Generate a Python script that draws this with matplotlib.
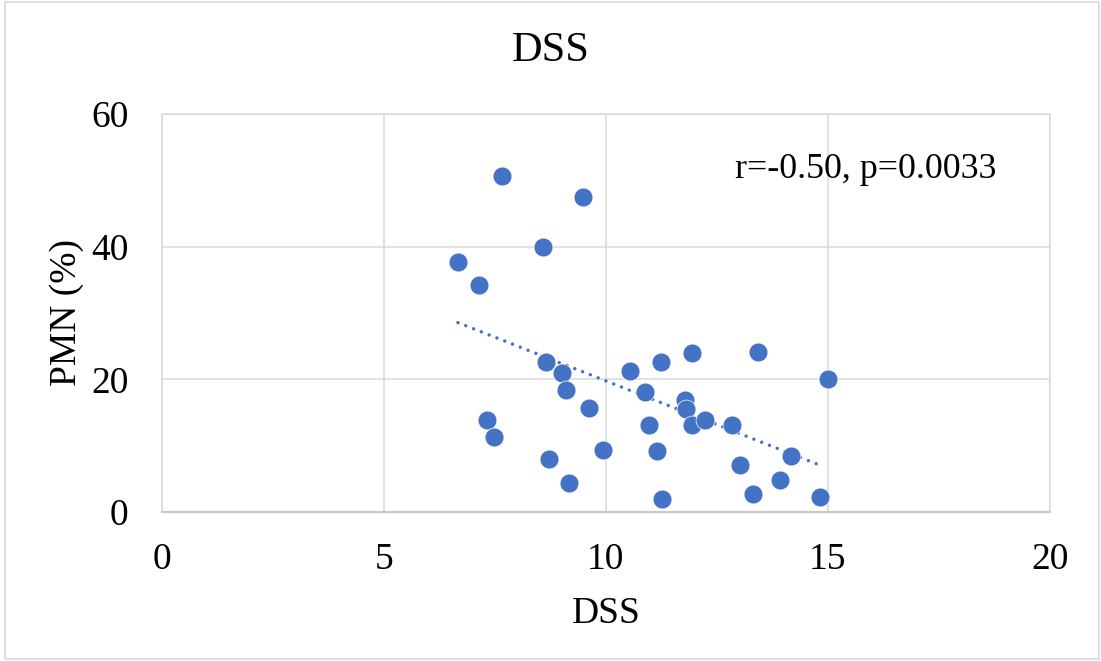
import numpy as np
import matplotlib.pyplot as plt
from matplotlib.patches import Rectangle

# DSS score vs PMN (%)
dss = [7.66, 9.48, 8.59, 6.67, 7.15,
       8.65, 9.01, 9.10, 9.62, 7.32, 7.49, 8.73, 9.17, 9.93,
       10.55, 11.23, 11.95, 13.42, 15.0, 10.89, 11.79, 11.81,
       10.98, 11.94, 12.24, 12.84, 11.16, 14.17, 13.02, 13.93,
       11.26, 13.32, 14.83]
pmn = [50.6, 47.5, 40.0, 37.7, 34.2,
       22.6, 20.9, 18.4, 15.6, 13.8, 11.25, 8.0, 4.3, 9.4,
       21.3, 22.6, 23.9, 24.1, 20.0, 18.1, 16.9, 15.5,
       13.1, 13.1, 13.8, 13.1, 9.2, 8.5, 7.1, 4.8,
       2.0, 2.7, 2.3]
x_ticks = [0, 5, 10, 15, 20]
y_ticks = [0, 20, 40, 60]
stat_text = 'r=-0.50, p=0.0033'

blue = '#4472C4'
grid_gray = '#D9D9D9'

plt.rcParams['font.family'] = ['Liberation Serif', 'DejaVu Serif']

fig = plt.figure(figsize=(11.01, 6.61), dpi=100)
ax = fig.add_axes([0.1469, 0.2256, 0.8068, 0.6018])

# chart border
fig.patches.append(Rectangle((5 / 1101, 2 / 661), 1094 / 1101, 657 / 661,
                             transform=fig.transFigure, fill=False,
                             edgecolor=grid_gray, linewidth=1.2))

ax.scatter(dss, pmn, s=185, color=blue, edgecolors='white', linewidths=0.5, zorder=3)

# linear trend line
k, b = np.polyfit(dss, pmn, 1)
xt = np.array([min(dss), max(dss) - 0.1])
ax.plot(xt, k * xt + b, color=blue, linewidth=2.5,
        linestyle=(0, (0.01, 2.4)), dash_capstyle='round', zorder=2)

ax.set_xlim(0, 20)
ax.set_ylim(0, 60)
ax.set_xticks(x_ticks)
ax.set_yticks(y_ticks)
ax.tick_params(length=0, labelsize=27, colors='black')
ax.tick_params(axis='x', pad=22)
ax.tick_params(axis='y', pad=24)
ax.grid(True, color=grid_gray, linewidth=1.1)
ax.set_axisbelow(True)
for side in ['top', 'right', 'left']:
    ax.spines[side].set_color(grid_gray)
    ax.spines[side].set_linewidth(1.1)
ax.spines['bottom'].set_color('#C8C8C8')
ax.spines['bottom'].set_linewidth(1.5)

ax.set_xlabel('DSS', fontsize=27, labelpad=14)
ax.set_ylabel('PMN (%)', fontsize=27, labelpad=5)
fig.text(0.5, 1 - 51 / 661, 'DSS', fontsize=30.5, ha='center', va='center')
ax.text(0.645, 0.839, stat_text, transform=ax.transAxes, fontsize=25.8,
        ha='left', va='baseline')

fig.savefig('out.png', dpi=100)
